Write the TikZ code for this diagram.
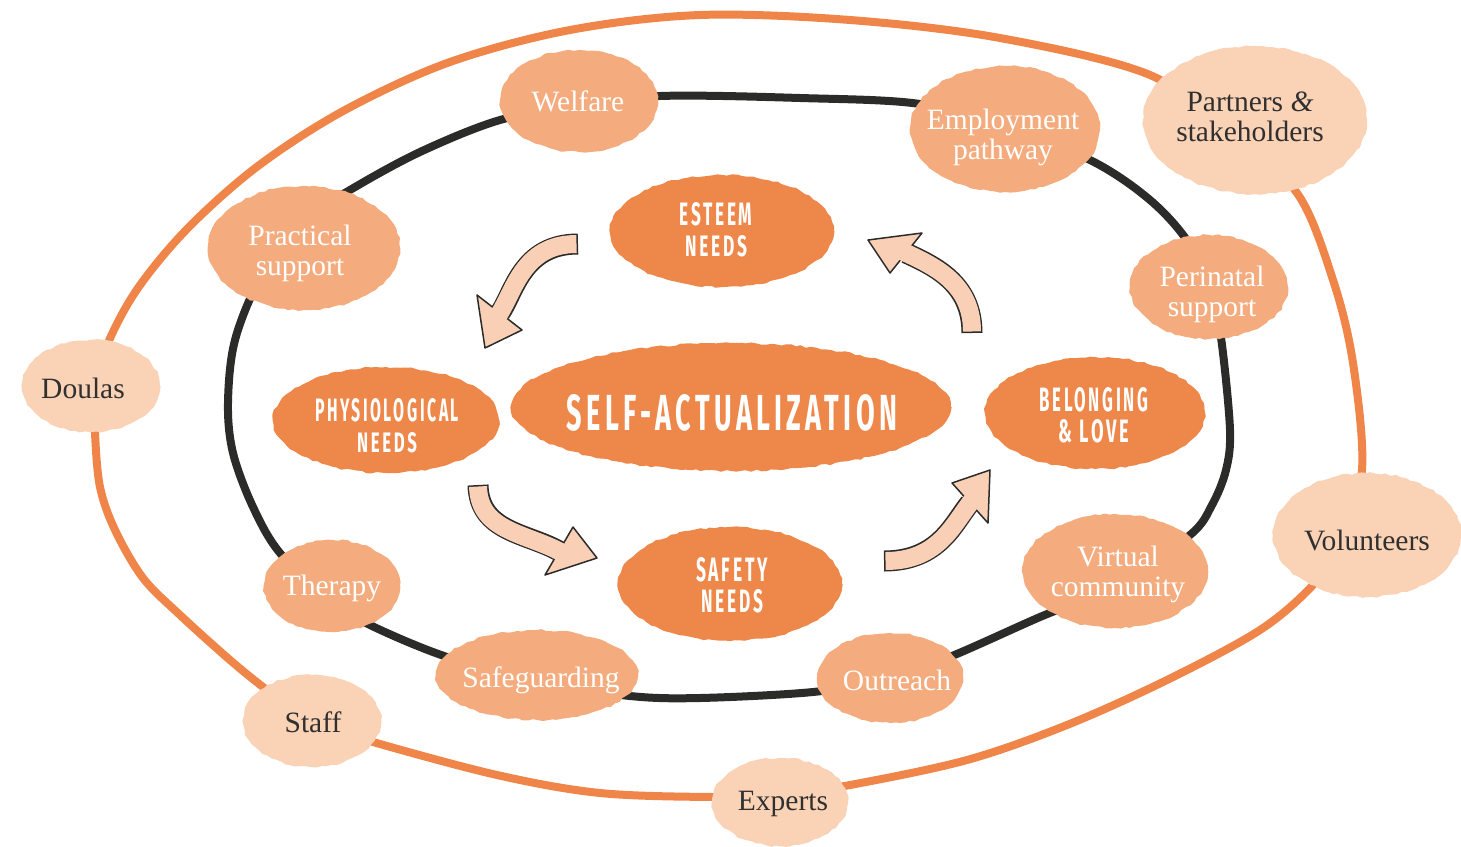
\documentclass[tikz,border=0pt]{standalone}
\usepackage{fontspec}
\usepackage{graphicx}
\setmainfont{Liberation Serif}
\newfontfamily\capfont{Fira Sans}[LetterSpace=16]
\usetikzlibrary{shapes.geometric,decorations.pathmorphing}
\definecolor{darkor}{HTML}{EE874A}
\definecolor{midor}{HTML}{F4AC7E}
\definecolor{lightor}{HTML}{FAD2B6}
\definecolor{arrfill}{HTML}{F9D0B5}
\definecolor{ink}{HTML}{2B2C2A}
\definecolor{ringor}{HTML}{EF8549}
\definecolor{txt}{HTML}{303030}
\newcommand{\capline}[3]{\resizebox{#1pt}{#2pt}{\capfont\bfseries #3}}
\newcommand{\blob}[7]{%
  \fill[#2blob, rough] (#3) ellipse [x radius=#4pt, y radius=#5pt];
  \node[#2text] (#1) at (#6) {#7};}
\tikzset{
  rough/.style={decorate, decoration={random steps, segment length=5pt, amplitude=1pt}},
  ringblack/.style={draw=ink, line width=8pt, line join=round},
  ringorange/.style={draw=ringor, line width=8pt, line join=round},
  shaftout/.style={draw=ink, line width=21pt},
  shaftin/.style={draw=arrfill, line width=18pt, shorten <=1.5pt, shorten >=-4pt},
  headst/.style={fill=arrfill, draw=ink, line width=1.5pt, line join=round},
  midblob/.style={fill=midor},
  lightblob/.style={fill=lightor},
  darkblob/.style={fill=darkor},
  midtext/.style={text=white, align=center, inner sep=0pt, font=\fontsize{29.5}{30}\selectfont},
  lighttext/.style={text=txt, align=center, inner sep=0pt, font=\fontsize{29.5}{30}\selectfont},
  darktext/.style={text=white, align=center, inner sep=0pt, font=\fontsize{10}{31}\selectfont},
}
\begin{document}
\begin{tikzpicture}[x=1pt,y=-1pt]
\pgfmathsetseed{7}
\useasboundingbox (0,0) rectangle (1461,846);

% rings
\draw[ringblack] plot[smooth cycle, tension=0.55] coordinates {
 (578,106) (660,96) (800,98) (920,104) (1003,128) (1090,160) (1150,200) (1190,245)
 (1213,300) (1222,345) (1230,430) (1226,470) (1212,505) (1190,535) (1117,585)
 (1040,617) (947,658) (880,680) (813,692) (700,698) (630,696) (540,682) (447,657)
 (370,625) (330,600) (280,553) (253,507) (233,453) (228,403) (235,340) (262,275)
 (305,220) (350,190) (420,152) (500,120)};
\draw[ringorange] plot[smooth cycle, tension=0.55] coordinates {
 (700,15) (850,20) (1000,38) (1150,75) (1230,135) (1297,193) (1333,280) (1353,363)
 (1362,470) (1340,545) (1313,585) (1260,630) (1167,680) (1067,725) (967,760)
 (850,785) (780,795) (713,797) (600,793) (497,775) (373,742) (312,722) (267,690)
 (230,660) (180,615) (143,578) (115,530) (100,487) (95,433) (95,390) (108,343)
 (138,288) (188,228) (258,166) (345,110) (450,62) (570,30)};

% arrow end points
\coordinate (t1) at (578,244); \coordinate (e1) at (500,313);
\coordinate (t2) at (478,485); \coordinate (e2) at (559,551);
\coordinate (t3) at (884,561); \coordinate (e3) at (970,503);
\coordinate (t4) at (972,333); \coordinate (e4) at (906,253);

% arrow 1 (esteem -> physiological)
\draw[shaftout] (t1) .. controls (522,244) and (514,293) .. (e1);
\filldraw[headst] (477,295) -- (485,348) -- (522,330) -- cycle;
\draw[shaftin] (t1) .. controls (522,244) and (514,293) .. (e1);
% arrow 2 (physiological -> safety)
\draw[shaftout] (t2) .. controls (479,532) and (527,533) .. (e2);
\filldraw[headst] (573,527) -- (597,558) -- (545,575) -- cycle;
\draw[shaftin] (t2) .. controls (479,532) and (527,533) .. (e2);
% arrow 3 (safety -> belonging)
\draw[shaftout] (t3) .. controls (940,561) and (954,522) .. (e3);
\filldraw[headst] (952,483) -- (990,470) -- (988,523) -- cycle;
\draw[shaftin] (t3) .. controls (940,561) and (954,522) .. (e3);
% arrow 4 (belonging -> esteem)
\draw[shaftout] (t4) .. controls (972,283) and (934,266) .. (e4);
\filldraw[headst] (922,233) -- (868,240) -- (890,273) -- cycle;
\draw[shaftin] (t4) .. controls (972,283) and (934,266) .. (e4);

% central blobs
\blob{self}{dark}{731,407}{220}{64}{732,413}{\capline{330}{36}{SELF-ACTUALIZATION}}
\blob{esteem}{dark}{722,231}{112}{56}{716,230}{\capline{73}{23}{ESTEEM}\\\capline{62}{21}{NEEDS}}
\blob{physio}{dark}{386,420}{113}{53}{387,426}{\capline{144}{23}{PHYSIOLOGICAL}\\\capline{60}{20}{NEEDS}}
\blob{belong}{dark}{1095,413}{110}{56}{1094,415}{\capline{109}{24}{BELONGING}\\\capline{71}{23}{\& LOVE}}
\blob{safety}{dark}{730,584}{112}{57}{732,585}{\capline{72}{24}{SAFETY}\\\capline{62}{23}{NEEDS}}

% inner ring blobs
\blob{welfare}{mid}{579,101}{79}{51}{578,101}{Welfare}
\blob{employ}{mid}{1005,129}{95}{63}{1003,137}{Employment\\pathway}
\blob{practical}{mid}{304,248}{96}{62}{300,253}{Practical\\support}
\blob{perinatal}{mid}{1209,287}{79}{52}{1212,294}{Perinatal\\support}
\blob{virtual}{mid}{1115,571}{93}{57}{1118,574}{Virtual\\community}
\blob{therapy}{mid}{332,586}{68}{46}{332,588}{Therapy}
\blob{safeguard}{mid}{537,675}{101}{45}{541,680}{Safeguarding}
\blob{outreach}{mid}{890,678}{73}{45}{897,680}{Outreach}

% outer ring blobs
\blob{partners}{light}{1255,120}{112}{74}{1250,117}{Partners \textit{\&}\\stakeholders}
\blob{doulas}{light}{91,386}{69}{46}{83,388}{Doulas}
\blob{volunteers}{light}{1367,535}{94}{62}{1367,540}{Volunteers}
\blob{staff}{light}{312,721}{69}{46}{313,722}{Staff}
\blob{experts}{light}{780,802}{68}{44}{783,804}{Experts}
\end{tikzpicture}
\end{document}
